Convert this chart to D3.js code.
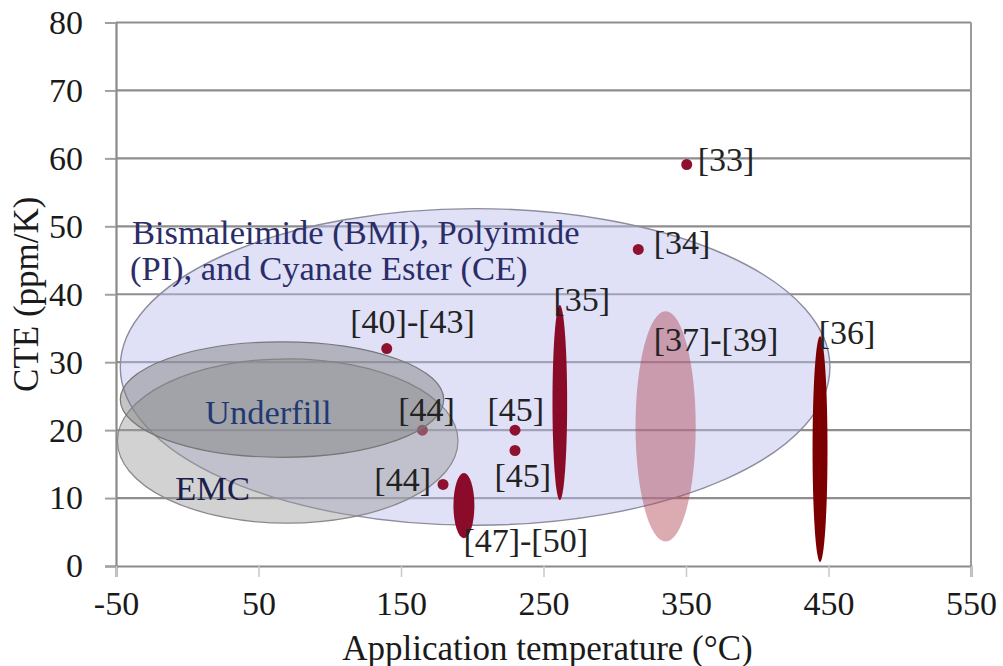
<!DOCTYPE html>
<html>
<head>
<meta charset="utf-8">
<script src="https://cdn.jsdelivr.net/npm/d3@7"></script>
<style>
  body { margin: 0; background: #fff; }
  svg { display: block; }
</style>
</head>
<body>
<div id="container"></div>
<script>
// CTE vs application temperature — material regions and literature values

// ---------------------------------------------------------------------------
// Data
// ---------------------------------------------------------------------------

const xTicks = [-50, 50, 150, 250, 350, 450, 550];
const yTicks = [0, 10, 20, 30, 40, 50, 60, 70, 80];

// material regions: temperature range (°C) and CTE range (ppm/K)
const regionNames = ['BMI/PI/CE', 'EMC', 'Underfill'];
const regionTMin  = [-47, -49, -47];
const regionTMax  = [451, 190, 180];
const regionCMin  = [6.0, 6.3, 16.0];
const regionCMax  = [52.6, 30.5, 33.0];

// reference ranges drawn as narrow ellipses
const rangeRefs = ['[35]', '[36]', '[47]-[50]', '[37]-[39]'];
const rangeTMin = [256.3, 438.8, 186.8, 314.6];
const rangeTMax = [266.6, 449.3, 201.5, 356.8];
const rangeCMin = [9.7, 0.6, 4.1, 3.6];
const rangeCMax = [38.4, 33.8, 13.7, 37.5];

// single reported values
const pointRefs = ['[33]', '[34]', '[40]-[43]', '[44]', '[44]', '[45]', '[45]'];
const pointT    = [350.5, 316.5, 140, 165, 179.5, 230, 230];
const pointCTE  = [59.1, 46.6, 32, 20, 12, 20, 17];

// annotation texts, anchored (start, middle) at data coordinates
const noteTexts = ['[33]', '[34]', '[35]', '[40]-[43]', '[37]-[39]', '[36]',
                   '[44]', '[45]', '[45]', '[44]', '[47]-[50]'];
const noteT     = [358.2, 327.3, 257.0, 114.4, 327.3, 443.2, 148.1, 210.7, 215.6, 131.3, 193.8];
const noteCTE   = [59.8, 47.6, 39.3, 36.0, 33.4, 34.3, 23.0, 23.0, 13.3, 12.8, 3.8];

const regionLabels = ['Bismaleimide (BMI), Polyimide', '(PI), and Cyanate Ester (CE)', 'Underfill', 'EMC'];
const regionLabelT = [-38.8, -40.2, 12.5, -8.5];
const regionLabelC = [49.2, 43.9, 22.7, 11.5];

// ---------------------------------------------------------------------------
// Layout
// ---------------------------------------------------------------------------

const W = 1003, H = 666;
const plotL = 116, plotR = 971, plotT = 22.5, plotB = 566;
const FONT = '"Liberation Serif", "Times New Roman", serif';

const x = d3.scaleLinear().domain([-50, 550]).range([plotL, plotR]);
const y = d3.scaleLinear().domain([0, 80]).range([plotB, plotT]);

const svg = d3.select('#container').append('svg')
  .attr('width', W).attr('height', H);

// ── grid ──────────────────────────────────────────────────────────────
svg.append('g')
  .selectAll('line')
  .data(yTicks.filter(d => d > 0))
  .join('line')
  .attr('x1', plotL).attr('x2', plotR)
  .attr('y1', d => y(d)).attr('y2', d => y(d))
  .attr('stroke', '#8e8e8e').attr('stroke-width', 2.2);

// right border
svg.append('line')
  .attr('x1', plotR).attr('x2', plotR).attr('y1', plotT).attr('y2', plotB)
  .attr('stroke', '#9a9a9a').attr('stroke-width', 2);

// ── regions ───────────────────────────────────────────────────────────
function ellipse(g, t0, t1, c0, c1) {
  return g.append('ellipse')
    .attr('cx', x((t0 + t1) / 2))
    .attr('cy', y((c0 + c1) / 2))
    .attr('rx', Math.abs(x(t1) - x(t0)) / 2)
    .attr('ry', Math.abs(y(c1) - y(c0)) / 2);
}

// BMI/PI/CE
ellipse(svg, regionTMin[0], regionTMax[0], regionCMin[0], regionCMax[0])
  .attr('fill', '#babaee').attr('fill-opacity', 0.45)
  .attr('stroke', '#8d8d9e').attr('stroke-width', 1.4);

// the [44] point at 165 °C sits under the gray regions
svg.append('circle')
  .attr('cx', x(pointT[3])).attr('cy', y(pointCTE[3])).attr('r', 5.5)
  .attr('fill', '#8e1230');

// EMC
ellipse(svg, regionTMin[1], regionTMax[1], regionCMin[1], regionCMax[1])
  .attr('fill', '#9c9c9c').attr('fill-opacity', 0.45)
  .attr('stroke', '#8a8a8a').attr('stroke-width', 1.2);

// Underfill
ellipse(svg, regionTMin[2], regionTMax[2], regionCMin[2], regionCMax[2])
  .attr('fill', '#7c7c7c').attr('fill-opacity', 0.45)
  .attr('stroke', '#777').attr('stroke-width', 1.2);

// ── reference ranges ─────────────────────────────────────────────────
const rangeFill    = ['#8a0b28', '#7c0000', '#8a0b2a', '#b04452'];
const rangeOpacity = [1, 1, 1, 0.45];
rangeRefs.forEach((r, i) => {
  ellipse(svg, rangeTMin[i], rangeTMax[i], rangeCMin[i], rangeCMax[i])
    .attr('fill', rangeFill[i]).attr('fill-opacity', rangeOpacity[i]);
});

// ── points ────────────────────────────────────────────────────────────
svg.append('g')
  .selectAll('circle')
  .data(pointRefs.map((r, i) => ({ r, t: pointT[i], c: pointCTE[i] })).filter((d, i) => i !== 3))
  .join('circle')
  .attr('cx', d => x(d.t)).attr('cy', d => y(d.c)).attr('r', 5.5)
  .attr('fill', '#8e1230');

// ── axes ──────────────────────────────────────────────────────────────
const yAxis = svg.append('g')
  .attr('transform', `translate(${plotL},0)`)
  .call(d3.axisLeft(y).tickValues(yTicks).tickSize(11).tickPadding(22).tickFormat(d => String(d)));
yAxis.select('.domain').attr('stroke', '#8a8a8a').attr('stroke-width', 2.2);
yAxis.selectAll('.tick line').attr('stroke', '#a0a0a0').attr('stroke-width', 2);
yAxis.selectAll('.tick text')
  .attr('font-family', FONT).attr('font-size', 34).attr('fill', '#1a1a1a');

const xAxis = svg.append('g')
  .attr('transform', `translate(0,${plotB})`)
  .call(d3.axisBottom(x).tickValues(xTicks).tickSize(11).tickPadding(14).tickFormat(d => String(d)));
xAxis.select('.domain').attr('stroke', '#8a8a8a').attr('stroke-width', 2.2);
xAxis.selectAll('.tick line').attr('stroke', '#c8c8c8').attr('stroke-width', 1.5);
xAxis.selectAll('.tick text')
  .attr('font-family', FONT).attr('font-size', 34).attr('fill', '#1a1a1a');

// axis titles
svg.append('text')
  .attr('transform', `translate(26,${(plotT + plotB) / 2}) rotate(-90)`)
  .attr('text-anchor', 'middle').attr('dominant-baseline', 'central')
  .attr('font-family', FONT).attr('font-size', 35).attr('fill', '#1a1a1a')
  .text('CTE (ppm/K)');

svg.append('text')
  .attr('x', (plotL + plotR) / 2 + 4).attr('y', 648)
  .attr('text-anchor', 'middle').attr('dominant-baseline', 'central')
  .attr('font-family', FONT).attr('font-size', 35).attr('fill', '#1a1a1a')
  .text('Application temperature (°C)');

// ── annotations ───────────────────────────────────────────────────────
svg.append('g')
  .selectAll('text')
  .data(noteTexts.map((t, i) => ({ t, x: noteT[i], c: noteCTE[i] })))
  .join('text')
  .attr('x', d => x(d.x)).attr('y', d => y(d.c))
  .attr('dominant-baseline', 'central')
  .attr('font-family', FONT).attr('font-size', 34).attr('fill', '#222')
  .text(d => d.t);

const labelColor = ['#2a2d68', '#2a2d68', '#1f3a72', '#1c1f4c'];
svg.append('g')
  .selectAll('text')
  .data(regionLabels.map((t, i) => ({ t, x: regionLabelT[i], c: regionLabelC[i], col: labelColor[i] })))
  .join('text')
  .attr('x', d => x(d.x)).attr('y', d => y(d.c))
  .attr('dominant-baseline', 'central')
  .attr('font-family', FONT).attr('font-size', 34.5).attr('fill', d => d.col)
  .text(d => d.t);
</script>
</body>
</html>
